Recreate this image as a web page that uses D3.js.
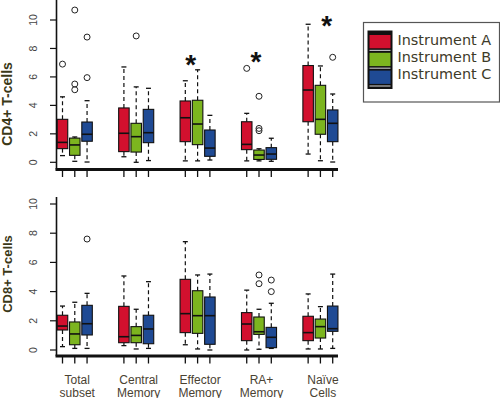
<!DOCTYPE html>
<html>
<head>
<meta charset="utf-8">
<style>
body { margin: 0; background: #fff; }
svg { display: block; }
</style>
</head>
<body>
<script src="https://cdn.jsdelivr.net/npm/d3@7"></script>
<script>

// categories, series
var groups = [["Total", "subset"], ["Central", "Memory"], ["Effector", "Memory"], ["RA+", "Memory"], ["Naïve", "Cells"]];
var instruments = ["Instrument A", "Instrument B", "Instrument C"];
var colors = ["#d2102e", "#7cb51f", "#1f4a94"];
var yTicks = [0, 2, 4, 6, 8, 10];

// box stats per group: [lower whisker, q1, median, q3, upper whisker]
var cd4A = [[0.47, 0.96, 1.4, 3.02, 4.6], [0.39, 0.75, 2.04, 3.82, 6.7], [0.1, 1.45, 3.13, 4.31, 5.73], [0.1, 0.89, 1.26, 2.85, 3.44], [0.58, 2.85, 5.08, 6.8, 9.7]];
var cd4B = [[0.07, 0.49, 1.22, 1.7, 1.78], [0, 0.72, 1.8, 2.74, 5.3], [0.1, 1.24, 2.69, 4.36, 6.5], [0.1, 0.2, 0.51, 0.86, 0.95], [0.11, 1.97, 3.02, 5.41, 6.77]];
var cd4C = [[0.02, 1.48, 1.97, 2.83, 4.33], [0.12, 1.38, 2.08, 3.72, 5.2], [0.16, 0.42, 1.0, 2.27, 3.3], [0.07, 0.21, 0.58, 1.03, 1.69], [0.02, 1.45, 2.74, 3.68, 4.8]];
var cd4OutA = [[6.9], [], [], [6.6], []];
var cd4OutB = [[5.1, 5.5, 10.7], [8.88], [], [2.22, 2.38, 4.64], []];
var cd4OutC = [[5.95, 8.8], [], [], [], [7.38]];
// significance stars: group, offset inside group (box units), value
var cd4StarGroup = [2, 3, 4];
var cd4StarOffset = [0.44, 0.76, 1.51];
var cd4StarY = [7.2, 7.45, 9.95];

var cd8A = [[0.23, 1.37, 1.64, 2.38, 3.01], [0.3, 0.5, 0.91, 2.99, 5.07], [0.36, 1.19, 2.49, 4.84, 7.42], [0, 0.64, 1.78, 2.56, 4.1], [0.07, 0.64, 1.19, 2.31, 3.84]];
var cd8B = [[0.11, 0.36, 1.1, 1.92, 3.27], [0.07, 0.5, 1.0, 1.6, 2.79], [0.07, 1.14, 2.35, 4.06, 5.14], [0.05, 1.07, 1.25, 2.26, 2.79], [0.07, 0.82, 1.6, 2.12, 2.97]];
var cd8C = [[0.11, 1.03, 1.8, 3.06, 3.88], [0.11, 0.43, 1.44, 2.38, 4.68], [0, 0.39, 2.35, 3.63, 5.2], [0.11, 0.16, 0.87, 1.55, 3.2], [0.11, 1.28, 1.46, 3.01, 5.2]];
var cd8OutA = [[], [], [], [], []];
var cd8OutB = [[], [], [], [4.54, 5.14], []];
var cd8OutC = [[7.6], [], [], [4.0, 4.79], []];

var width = 500, height = 398;

var svg = d3.select("body").append("svg")
    .attr("width", width)
    .attr("height", height);

// box position = 5 * group + instrument
var x = d3.scaleLinear().domain([0, 22]).range([62.5, 332.7]);
var boxW = 10.5, capW = 5;

var panels = [
  {title: "CD4+ T-cells", titleSize: 14, titleY: 104, stats: [cd4A, cd4B, cd4C], outs: [cd4OutA, cd4OutB, cd4OutC],
   y: d3.scaleLinear().domain([0, 10]).range([162.3, 20]), axisY: 169.5, lineTop: 0},
  {title: "CD8+ T-cells", titleSize: 13, titleY: 274, stats: [cd8A, cd8B, cd8C], outs: [cd8OutA, cd8OutB, cd8OutC],
   y: d3.scaleLinear().domain([0, 10]).range([350, 204]), axisY: 356, lineTop: 197}
];

panels.forEach(function(p) {
  var g = svg.append("g");
  var y = p.y;

  // left axis
  g.append("line")
      .attr("x1", 56.5).attr("x2", 56.5)
      .attr("y1", p.lineTop).attr("y2", p.axisY)
      .attr("stroke", "#111").attr("stroke-width", 1.6);
  yTicks.forEach(function(t) {
    g.append("line")
        .attr("x1", 50).attr("x2", 56.5)
        .attr("y1", y(t)).attr("y2", y(t))
        .attr("stroke", "#111").attr("stroke-width", 1.2);
    g.append("text")
        .attr("transform", "translate(37," + y(t) + ") rotate(-90)")
        .attr("text-anchor", "middle")
        .attr("font-family", "Liberation Sans, Arial, sans-serif")
        .attr("font-size", 10.5)
        .attr("fill", "#444")
        .text(t);
  });

  // bottom axis
  g.append("line")
      .attr("x1", 55.5).attr("x2", 338)
      .attr("y1", p.axisY).attr("y2", p.axisY)
      .attr("stroke", "#111").attr("stroke-width", 3);
  d3.range(5).forEach(function(gi) {
    d3.range(3).forEach(function(i) {
      var cx = x(5 * gi + i);
      g.append("line")
          .attr("x1", cx).attr("x2", cx)
          .attr("y1", p.axisY + 1).attr("y2", p.axisY + 7.5)
          .attr("stroke", "#111").attr("stroke-width", 1.3);
    });
  });

  // axis title
  g.append("text")
      .attr("transform", "translate(12," + p.titleY + ") rotate(-90)")
      .attr("text-anchor", "middle")
      .attr("font-family", "Liberation Sans, Arial, sans-serif")
      .attr("font-weight", "bold")
      .attr("font-size", p.titleSize)
      .attr("fill", "#3b3817")
      .text(p.title);

  // boxes
  p.stats.forEach(function(series, i) {
    series.forEach(function(s, gi) {
      var cx = x(5 * gi + i);
      var bg = g.append("g");
      // whiskers
      [[s[3], s[4]], [s[1], s[0]]].forEach(function(w) {
        bg.append("line")
            .attr("x1", cx).attr("x2", cx)
            .attr("y1", y(w[0])).attr("y2", y(w[1]))
            .attr("stroke", "#111").attr("stroke-width", 1.2)
            .attr("stroke-dasharray", "4,3");
        bg.append("line")
            .attr("x1", cx - capW / 2).attr("x2", cx + capW / 2)
            .attr("y1", y(w[1])).attr("y2", y(w[1]))
            .attr("stroke", "#111").attr("stroke-width", 1.3);
      });
      bg.append("rect")
          .attr("x", cx - boxW / 2)
          .attr("y", y(s[3]))
          .attr("width", boxW)
          .attr("height", y(s[1]) - y(s[3]))
          .attr("fill", colors[i])
          .attr("stroke", "#111").attr("stroke-width", 1.1);
      bg.append("line")
          .attr("x1", cx - boxW / 2).attr("x2", cx + boxW / 2)
          .attr("y1", y(s[2])).attr("y2", y(s[2]))
          .attr("stroke", "#111").attr("stroke-width", 1.6);
      p.outs[i][gi].forEach(function(o) {
        bg.append("circle")
            .attr("cx", cx).attr("cy", y(o)).attr("r", 3)
            .attr("fill", "none")
            .attr("stroke", "#222").attr("stroke-width", 1);
      });
    });
  });
});

// significance stars (CD4 panel)
cd4StarGroup.forEach(function(gi, k) {
  svg.append("text")
      .attr("x", x(5 * gi + cd4StarOffset[k]))
      .attr("y", panels[0].y(cd4StarY[k]) + 14.5)
      .attr("text-anchor", "middle")
      .attr("font-family", "Liberation Sans, Arial, sans-serif")
      .attr("font-weight", "bold")
      .attr("font-size", 28)
      .attr("fill", "#111")
      .text("*");
});

// group labels
groups.forEach(function(lines, gi) {
  var t = svg.append("text")
      .attr("x", x(5 * gi + 1) + 2.5)
      .attr("y", 384)
      .attr("text-anchor", "middle")
      .attr("font-family", "Liberation Sans, Arial, sans-serif")
      .attr("font-size", 12)
      .attr("fill", "#4a4232");
  lines.forEach(function(l, li) {
    t.append("tspan")
        .attr("x", x(5 * gi + 1) + 2.5)
        .attr("dy", li === 0 ? 0 : 12.5)
        .text(l);
  });
});

// legend
var lg = svg.append("g");
lg.append("rect")
    .attr("x", 363.5).attr("y", 22.5)
    .attr("width", 136).attr("height", 79.5)
    .attr("fill", "#fff")
    .attr("stroke", "#555").attr("stroke-width", 1.2);
lg.append("rect")
    .attr("x", 367.5).attr("y", 30.5)
    .attr("width", 25).attr("height", 58.5)
    .attr("fill", "#111");
instruments.forEach(function(name, i) {
  var yy = 35 + i * 17.8;
  lg.append("rect")
      .attr("x", 369.5).attr("y", yy)
      .attr("width", 21).attr("height", 13.3)
      .attr("fill", colors[i]);
  lg.append("line")
      .attr("x1", 369.5).attr("x2", 390.5)
      .attr("y1", yy + 15.4).attr("y2", yy + 15.4)
      .attr("stroke", "#bbb").attr("stroke-width", 1.2);
  lg.append("text")
      .attr("x", 397.5)
      .attr("y", 44.5 + i * 17)
      .attr("font-family", "DejaVu Sans, Verdana, sans-serif")
      .attr("font-size", 14.4)
      .attr("fill", "#3d3a28")
      .text(name);
});

</script>
</body>
</html>
